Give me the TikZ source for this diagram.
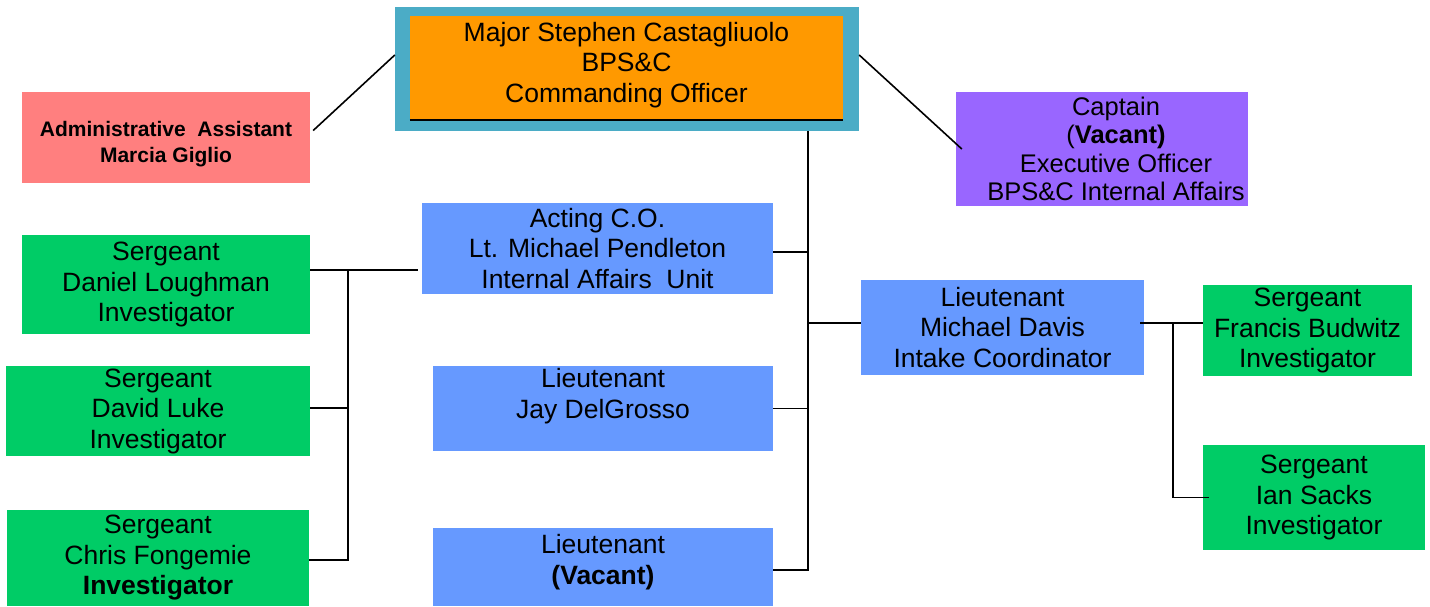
\documentclass[tikz,border=0pt]{standalone}
\usepackage{fontspec}
\setmainfont{Liberation Sans}
\definecolor{FrameTeal}{HTML}{4BACC6}
\definecolor{CmdOrange}{HTML}{FF9900}
\definecolor{AdminPink}{HTML}{FF7F7F}
\definecolor{CaptPurple}{HTML}{9966FF}
\definecolor{LtBlue}{HTML}{6699FF}
\definecolor{SgtGreen}{HTML}{00CC66}
\usetikzlibrary{calc}

\begin{document}
\begin{tikzpicture}[x=1pt, y=-1pt, every node/.style={font=\fontsize{26.5}{30.5}\selectfont}]
\tikzset{rankbox/.style={inner sep=0pt, align=center, anchor=center}}
\tikzset{ltbox/.style={rankbox, fill=LtBlue}}
\tikzset{sgtbox/.style={rankbox, fill=SgtGreen}}
\tikzset{link/.style={line width=1.6pt}}
\useasboundingbox (0,0) rectangle (1430,607);
% commanding officer
\node[rankbox, fill=FrameTeal, minimum width=464pt, minimum height=124pt] (majorframe) at (627,69) {};
\node[rankbox, fill=CmdOrange, minimum width=433pt, minimum height=104pt] (major) at (626.5,68) {Major Stephen Castagliuolo\\BPS\&C\\Commanding Officer\rule[-11.5pt]{0pt}{0pt}};
\draw[line width=2pt] (major.south west) -- (major.south east);
\node[rankbox, fill=AdminPink, minimum width=288pt, minimum height=91pt, font=\fontsize{21}{26}\selectfont\bfseries] (admin) at (166,137.5) {\rule{0pt}{29pt}Administrative\ \ Assistant\\Marcia Giglio};
\node[rankbox, fill=CaptPurple, minimum width=292pt, minimum height=114pt, font=\fontsize{25.5}{28.3}\selectfont] (captain) at (1102,149) {\hspace*{28pt}Captain\\\hspace*{28pt}(\textbf{Vacant)}\\\hspace*{28pt}Executive Officer\\\hspace*{28pt}BPS\&C Internal Affairs};
% lieutenants
\node[ltbox, minimum width=351pt, minimum height=91pt] (acting) at (597.5,248.5) {Acting C.O.\\Lt. Michael Pendleton\\Internal Affairs\ \ Unit};
\node[ltbox, minimum width=340pt, minimum height=85pt] (delgrosso) at (603,408.5) {Lieutenant\\Jay DelGrosso\rule[-30pt]{0pt}{0pt}};
\node[ltbox, minimum width=340pt, minimum height=78pt] (vacantlt) at (603,567) {Lieutenant\\\textbf{(Vacant)}\rule[-15.5pt]{0pt}{0pt}};
\node[ltbox, minimum width=283pt, minimum height=95pt] (davis) at (1002.5,327.5) {Lieutenant\\Michael Davis\\Intake Coordinator};
% sergeants
\node[sgtbox, minimum width=288pt, minimum height=99pt] (loughman) at (166,284.5) {Sergeant\\Daniel Loughman\\Investigator};
\node[sgtbox, minimum width=304pt, minimum height=90pt] (luke) at (158,411) {Sergeant\\David Luke\\Investigator};
\node[sgtbox, minimum width=302pt, minimum height=96pt] (fongemie) at (158,558) {Sergeant\\Chris Fongemie\\\textbf{Investigator}};
\node[sgtbox, minimum width=209pt, minimum height=91pt] (budwitz) at (1307.5,330.5) {Sergeant\\Francis Budwitz\\Investigator};
\node[sgtbox, minimum width=222pt, minimum height=105pt] (sacks) at (1314,497.5) {Sergeant\\Ian Sacks\\Investigator};
% junctions
\coordinate (trunk) at (808,0);
\coordinate (lj) at (348,270);
\coordinate (rj) at (1173,323);
% connectors
\draw[link] ([xshift=3pt,yshift=7pt]admin.east) -- ([yshift=14pt]majorframe.west);
\draw[link] ([yshift=14pt]majorframe.east) -- ([xshift=6pt]captain.west);
\draw[link] (majorframe.south -| trunk) |- ([yshift=-3pt]vacantlt.east);
\draw[link] ([yshift=-3.5pt]acting.east) -- ([yshift=-3.5pt]acting.east -| trunk);
\draw[link] (delgrosso.east) -- (delgrosso.east -| trunk);
\draw[link] (rj -| trunk) -- (rj -| davis.west);
\draw[link] (lj -| loughman.east) -- ([xshift=-4pt]lj -| acting.west);
\draw[link] (lj) |- ([yshift=-2pt]fongemie.east);
\draw[link] ([yshift=3pt]luke.east) -- ([yshift=3pt]luke.east -| lj);
\draw[link] ([xshift=-4pt]rj -| davis.east) -- (rj -| budwitz.west);
\draw[link] (rj) |- ([xshift=6pt]sacks.west);
\end{tikzpicture}
\end{document}
